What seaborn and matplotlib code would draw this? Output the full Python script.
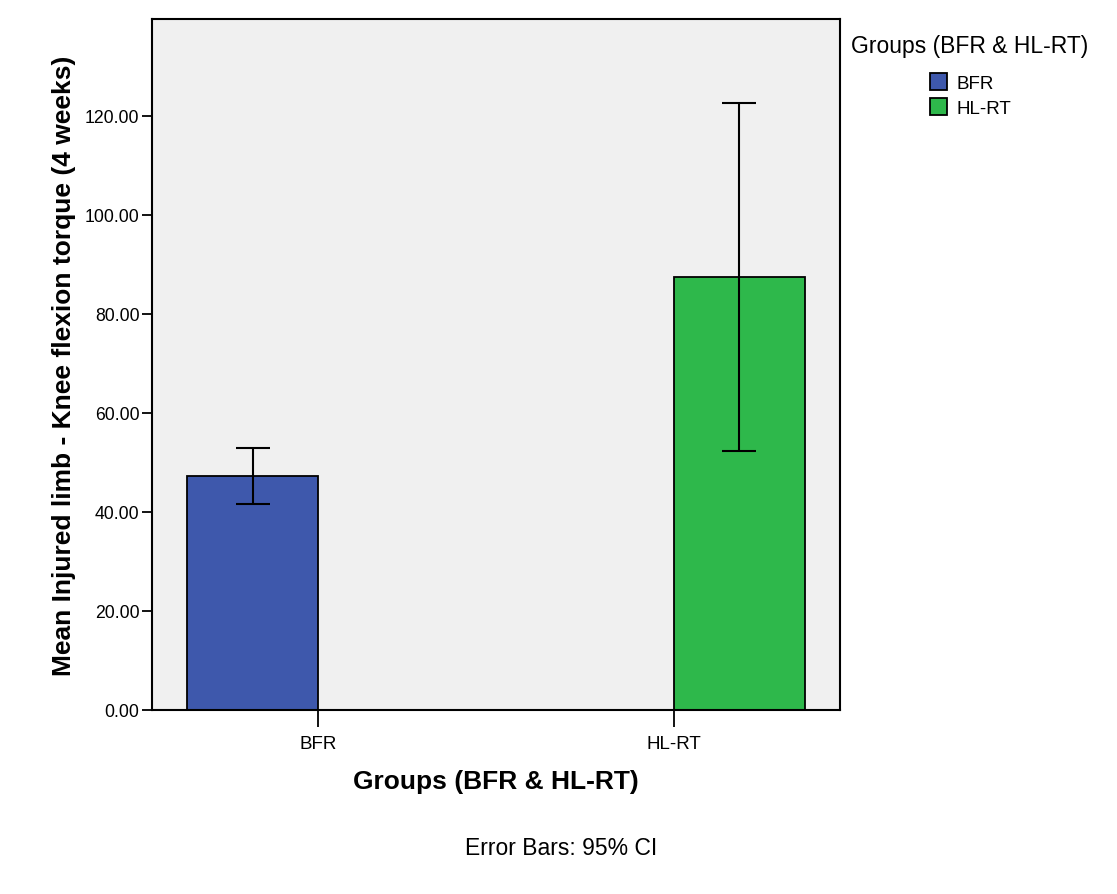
import matplotlib
matplotlib.use("Agg")
import matplotlib.pyplot as plt
from matplotlib.patches import Patch
import seaborn as sns
import pandas as pd
import numpy as np

groups = ["BFR", "HL-RT"]
means = [47.3, 87.5]
ci_low = [41.6, 52.3]
ci_high = [52.9, 122.6]
colors = ["#3e58ac", "#2eb84b"]
y_ticks = [0, 20, 40, 60, 80, 100, 120]

sns.set_style("white")
plt.rcParams['font.family'] = ['Liberation Sans', 'DejaVu Sans']
plt.rcParams['text.color'] = 'black'
plt.rcParams['axes.labelcolor'] = 'black'
plt.rcParams['xtick.color'] = 'black'
plt.rcParams['ytick.color'] = 'black'

df = pd.DataFrame({"group": groups, "mean": means, "lo": ci_low, "hi": ci_high})

fig = plt.figure(figsize=(11.17, 8.95), dpi=100)
ax = fig.add_axes([0.136, 0.2056, 0.616, 0.7721])
ax.set_facecolor("#f0f0f0")

sns.barplot(data=df, x="group", y="mean", hue="group", order=groups, hue_order=groups,
            palette=colors, dodge=True, width=0.737, errorbar=None,
            edgecolor="black", linewidth=1.3, saturation=1, legend=False, ax=ax)

# error bars at bar centers
for p in ax.patches:
    h = p.get_height()
    if not np.isfinite(h) or h == 0:
        continue
    cx = p.get_x() + p.get_width() / 2
    idx = int(np.argmin([abs(h - m) for m in means]))
    lo, hi = ci_low[idx], ci_high[idx]
    ax.errorbar([cx], [means[idx]], yerr=[[means[idx] - lo], [hi - means[idx]]],
                fmt="none", ecolor="black", elinewidth=1.5, capsize=12, capthick=1.5)

ax.set_xlim(-0.468, 1.467)
ax.set_ylim(0, 139.6)
ax.set_yticks(y_ticks)
ax.set_yticklabels([f"{v:.2f}" for v in y_ticks], fontsize=12.7)
ax.tick_params(axis="x", labelsize=13.5, length=12, width=1.3, direction="out", bottom=True, pad=6)
ax.tick_params(axis="y", length=7, width=1.3, direction="out", left=True, pad=2)
for s in ax.spines.values():
    s.set_visible(True)
    s.set_color("black")
    s.set_linewidth(1.5)

ax.set_xlabel("Groups (BFR & HL-RT)", fontsize=19, fontweight="bold", labelpad=12)
ax.set_ylabel("Mean Injured limb - Knee flexion torque (4 weeks)", fontsize=19,
              fontweight="bold", labelpad=6)

# legend title and entries
fig.text(969.5 / 1117, 1 - 47 / 895, "Groups (BFR & HL-RT)", ha="center", va="center", fontsize=16.5)
handles = [Patch(facecolor=c, edgecolor="black", linewidth=1.3) for c in colors]
leg = fig.legend(handles, groups, loc="upper left",
                 bbox_to_anchor=(930 / 1117, 1 - 74 / 895), bbox_transform=fig.transFigure,
                 frameon=False, fontsize=13.5, borderpad=0, borderaxespad=0,
                 handlelength=0.9, handleheight=1.0, handletextpad=0.5, labelspacing=0.35)

fig.text(0.502, 0.052, "Error Bars: 95% CI", ha="center", va="center", fontsize=16.5)

fig.savefig("out.png", dpi=100)
